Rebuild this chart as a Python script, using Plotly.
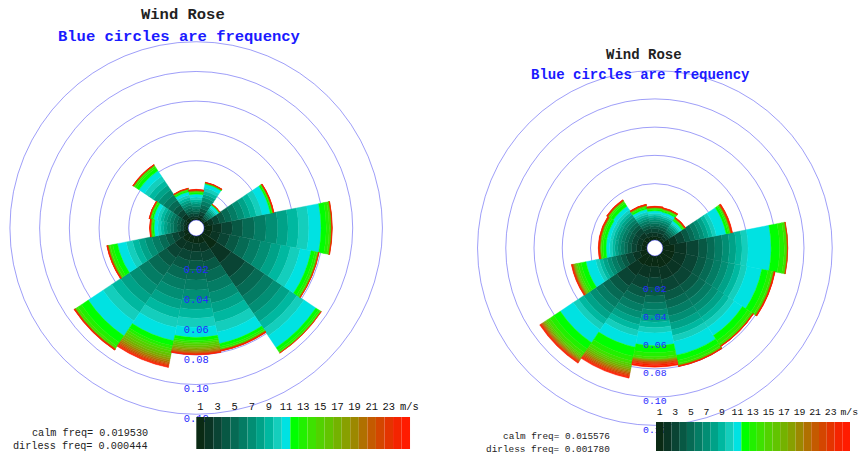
import plotly.graph_objects as go

# ---------------------------------------------------------------- data
directions = ["N", "NNE", "NE", "ENE", "E", "ESE", "SE", "SSE",
              "S", "SSW", "SW", "WSW", "W", "WNW", "NW", "NNW"]
direction_deg = [0, 22.5, 45, 67.5, 90, 112.5, 135, 157.5,
                 180, 202.5, 225, 247.5, 270, 292.5, 315, 337.5]

speed_bins = [1, 2, 3, 4, 5, 6, 7, 8, 9, 10, 11, 12, 13,
              14, 15, 16, 17, 18, 19, 20, 21, 22, 23, 24, 25]   # m/s
speed_tick_vals = [1, 3, 5, 7, 9, 11, 13, 15, 17, 19, 21, 23, 25.4]
speed_tick_text = ["1", "3", "5", "7", "9", "11", "13", "15", "17",
                   "19", "21", "23", "m/s"]

ring_values = [0.02, 0.04, 0.06, 0.08, 0.10, 0.12]
ring_labels = ["0.02", "0.04", "0.06", "0.08", "0.10", "0.12"]

FREQ_UNIT = 1e-4   # the per-bin frequencies below are in units of 1e-4

# first station: frequency per 1 m/s speed bin (1..25) for each direction
rose1_N   = [12, 14, 16, 16, 17, 17, 17, 15, 15, 16, 20, 10, 6, 4, 1, 1, 1, 1, 1, 1, 1, 1, 1, 1, 2]
rose1_NNE = [18, 20, 22, 22, 25, 25, 25, 22, 22, 22, 25, 4, 2, 1, 1, 0, 0, 1, 0, 1, 0, 1, 0, 1, 1]
rose1_NE  = [9, 10, 12, 12, 13, 13, 13, 11, 11, 11, 15, 4, 2, 1, 0, 0, 0, 0, 0, 1, 0, 0, 1, 0, 1]
rose1_ENE = [32, 36, 40, 40, 44, 44, 44, 40, 40, 40, 55, 10, 5, 3, 0, 1, 0, 1, 0, 1, 0, 1, 1, 1, 1]
rose1_E   = [56, 63, 71, 71, 78, 78, 78, 70, 70, 70, 82, 35, 20, 13, 1, 1, 1, 1, 0, 1, 0, 0, 1, 0, 1]
rose1_ESE = [53, 59, 66, 66, 73, 73, 72, 66, 66, 66, 75, 25, 15, 10, 0, 1, 0, 1, 0, 1, 0, 0, 1, 0, 1]
rose1_SE  = [115, 115, 115, 82, 74, 74, 66, 66, 57, 56, 95, 22, 13, 8, 0, 0, 0, 0, 0, 0, 0, 0, 1, 0, 1]
rose1_SSE = [53, 59, 66, 66, 73, 73, 72, 66, 66, 66, 80, 20, 12, 8, 1, 1, 1, 1, 1, 1, 1, 1, 1, 1, 2]
rose1_S   = [49, 55, 62, 62, 68, 68, 67, 62, 61, 61, 68, 20, 12, 10, 14, 12, 10, 9, 8, 6, 5, 4, 3, 2, 2]
rose1_SSW = [50, 57, 63, 63, 69, 69, 69, 63, 63, 64, 90, 35, 20, 15, 18, 16, 15, 13, 12, 10, 8, 7, 6, 5, 4]
rose1_SW  = [56, 63, 70, 70, 77, 77, 77, 70, 70, 70, 120, 55, 30, 15, 2, 2, 1, 1, 1, 1, 1, 1, 2, 1, 2]
rose1_WSW = [34, 38, 43, 43, 47, 47, 47, 43, 42, 43, 60, 32, 18, 11, 1, 1, 1, 1, 1, 1, 1, 1, 1, 1, 2]
rose1_W   = [16, 18, 21, 21, 23, 23, 22, 21, 20, 20, 25, 10, 6, 4, 1, 1, 1, 1, 1, 1, 1, 1, 0, 1, 1]
rose1_WNW = [17, 19, 22, 22, 24, 24, 23, 22, 21, 21, 25, 11, 7, 4, 1, 1, 1, 0, 1, 0, 1, 0, 1, 1, 1]
rose1_NW  = [29, 33, 37, 37, 40, 40, 40, 37, 36, 36, 45, 22, 12, 8, 1, 1, 0, 1, 0, 1, 0, 1, 1, 1, 1]
rose1_NNW = [14, 16, 18, 18, 19, 19, 19, 18, 17, 17, 20, 9, 5, 4, 1, 1, 0, 1, 0, 1, 0, 1, 0, 1, 1]

# second station
rose2_N   = [27, 27, 27, 19, 17, 17, 15, 15, 13, 13, 18, 10, 6, 4, 1, 1, 1, 1, 1, 1, 1, 1, 1, 1, 2]
rose2_NNE = [26, 26, 26, 19, 17, 17, 15, 14, 12, 13, 18, 10, 6, 4, 1, 1, 1, 1, 1, 1, 1, 1, 1, 1, 2]
rose2_NE  = [22, 22, 22, 16, 15, 15, 13, 13, 11, 11, 15, 9, 6, 3, 1, 1, 1, 1, 1, 1, 1, 1, 1, 1, 2]
rose2_ENE = [54, 54, 54, 39, 35, 35, 31, 31, 27, 28, 70, 16, 9, 6, 1, 1, 1, 1, 1, 1, 1, 2, 2, 2, 2]
rose2_E   = [85, 85, 85, 60, 54, 54, 48, 48, 42, 43, 163, 60, 33, 20, 1, 1, 0, 1, 0, 1, 0, 0, 0, 0, 1]
rose2_ESE = [85, 85, 85, 61, 55, 55, 49, 49, 43, 43, 106, 45, 25, 14, 1, 1, 1, 1, 1, 1, 1, 1, 1, 1, 2]
rose2_SE  = [87, 87, 87, 62, 56, 56, 50, 50, 42, 43, 70, 45, 26, 15, 1, 1, 0, 1, 0, 1, 0, 1, 1, 1, 1]
rose2_SSE = [87, 87, 87, 62, 56, 56, 50, 50, 42, 43, 98, 38, 21, 13, 1, 1, 1, 1, 1, 1, 1, 1, 0, 1, 1]
rose2_S   = [76, 76, 76, 55, 49, 49, 44, 44, 38, 38, 91, 50, 28, 16, 3, 3, 3, 3, 4, 4, 5, 6, 7, 9, 11]
rose2_SSW = [81, 81, 81, 58, 52, 52, 47, 46, 41, 41, 80, 65, 35, 20, 14, 13, 12, 11, 10, 9, 8, 8, 7, 6, 6]
rose2_SW  = [90, 90, 90, 64, 58, 58, 51, 51, 44, 44, 110, 55, 33, 22, 10, 9, 8, 7, 6, 5, 5, 4, 4, 3, 4]
rose2_WSW = [52, 52, 52, 37, 34, 34, 30, 30, 25, 26, 70, 35, 20, 13, 6, 5, 5, 4, 3, 3, 3, 2, 2, 2, 2]
rose2_W   = [37, 37, 37, 27, 24, 24, 21, 21, 18, 19, 25, 20, 12, 8, 2, 1, 1, 1, 1, 1, 1, 1, 2, 2, 2]
rose2_WNW = [37, 37, 37, 27, 24, 24, 21, 21, 18, 19, 25, 20, 12, 8, 2, 1, 1, 1, 1, 1, 1, 1, 2, 2, 2]
rose2_NW  = [38, 38, 38, 27, 24, 24, 22, 21, 19, 19, 30, 22, 12, 8, 1, 1, 1, 1, 1, 1, 1, 1, 1, 2, 2]
rose2_NNW = [29, 29, 29, 20, 18, 18, 16, 16, 15, 15, 20, 12, 7, 4, 1, 1, 1, 1, 1, 1, 1, 1, 1, 1, 2]

calm_freq = ["0.019530", "0.015576"]
dirless_freq = ["0.000444", "0.001780"]

rose1 = [rose1_N, rose1_NNE, rose1_NE, rose1_ENE, rose1_E, rose1_ESE, rose1_SE, rose1_SSE,
         rose1_S, rose1_SSW, rose1_SW, rose1_WSW, rose1_W, rose1_WNW, rose1_NW, rose1_NNW]
rose2 = [rose2_N, rose2_NNE, rose2_NE, rose2_ENE, rose2_E, rose2_ESE, rose2_SE, rose2_SSE,
         rose2_S, rose2_SSW, rose2_SW, rose2_WSW, rose2_W, rose2_WNW, rose2_NW, rose2_NNW]

# ---------------------------------------------------------------- style
palette = ["#0a2a14", "#0a3424", "#0a4434", "#085844", "#066a54", "#047c64",
           "#028e74", "#00a288", "#00b8a0", "#14cebc", "#00e2e2",
           "#00ff00", "#22f000", "#3ee200", "#52d200", "#62c400", "#74b200",
           "#88a000", "#9c8800", "#b07000", "#c45a00", "#d44600", "#e43400",
           "#f42400", "#ff1c00"]

W, H = 865, 457
MONO = "Liberation Mono, Courier New, monospace"
GRID = "rgba(40,40,240,0.45)"
LABEL_BLUE = "#2626ff"

panels = [
    dict(polar="polar", rose=rose1, cx=198, cy=228, R=188, cb=(198, 414, 417, 449),
         tx=185, ty=15, sx=181, sy=37, tsize=15.5, small=10.2, lbl=10.4,
         calm_x=151, calm_y=433, dir_y=446, xa="x", ya="y"),
    dict(polar="polar2", rose=rose2, cx=661, cy=248, R=179, cb=(662, 858, 422, 451),
         tx=650, ty=55, sx=646, sy=75, tsize=14, small=9.4, lbl=9.8,
         calm_x=618, calm_y=436, dir_y=449, xa="x2", ya="y2"),
]

fig = go.Figure()
layout = dict(width=W, height=H, margin=dict(l=0, r=0, t=0, b=0),
              paper_bgcolor="white", plot_bgcolor="rgba(0,0,0,0)",
              showlegend=False, annotations=[], shapes=[])

for i, p in enumerate(panels):
    # stacked speed bins
    for b, spd in enumerate(speed_bins):
        fig.add_trace(go.Barpolar(
            r=[sector[b] * FREQ_UNIT for sector in p["rose"]],
            theta=direction_deg,
            width=[22.5] * len(direction_deg),
            marker=dict(color=palette[b], line=dict(width=0.4, color=palette[b])),
            subplot=p["polar"], hoverinfo="skip", name=f"{spd} m/s",
        ))
    # frequency ring labels along the south spoke
    fig.add_trace(go.Scatterpolar(
        r=ring_values, theta=[180] * len(ring_values), mode="text",
        text=ring_labels, textposition="bottom center",
        textfont=dict(family=MONO, size=p["lbl"], color=LABEL_BLUE),
        subplot=p["polar"], cliponaxis=False, hoverinfo="skip",
    ))

    hole = 8 / p["R"]
    layout[p["polar"]] = dict(
        domain=dict(x=[(p["cx"] - p["R"]) / W, (p["cx"] + p["R"]) / W],
                    y=[1 - (p["cy"] + p["R"]) / H, 1 - (p["cy"] - p["R"]) / H]),
        hole=hole, bgcolor="rgba(0,0,0,0)", barmode="stack",
        radialaxis=dict(range=[0, 0.12], tickvals=ring_values, showticklabels=False,
                        ticks="", showline=False, gridcolor=GRID, gridwidth=1,
                        layer="above traces"),
        angularaxis=dict(rotation=90, direction="clockwise", showgrid=False,
                         showticklabels=False, ticks="", showline=True,
                         linecolor=GRID, linewidth=1, layer="above traces"),
    )

    # colour key on its own cartesian axes (speed in m/s)
    x0, x1, ytop, ybot = p["cb"]
    xname = "xaxis" if p["xa"] == "x" else "xaxis2"
    yname = "yaxis" if p["ya"] == "y" else "yaxis2"
    layout[xname] = dict(domain=[x0 / W, x1 / W], range=[0.5, 25.5], anchor=p["ya"],
                         side="top", tickvals=speed_tick_vals, ticktext=speed_tick_text,
                         tickangle=0, ticks="", showgrid=False, zeroline=False,
                         showline=False, ticklabelstandoff=4,
                         tickfont=dict(family=MONO, size=p["lbl"], color="#111111"),
                         fixedrange=True)
    layout[yname] = dict(domain=[1 - ybot / H, 1 - ytop / H], range=[0, 1],
                         anchor=p["xa"], visible=False, fixedrange=True)
    fig.add_trace(go.Scatter(x=speed_bins, y=[0.5] * len(speed_bins), mode="markers",
                             marker=dict(opacity=0), xaxis=p["xa"], yaxis=p["ya"],
                             hoverinfo="skip"))
    for b, spd in enumerate(speed_bins):
        layout["shapes"].append(dict(type="rect", xref=p["xa"], yref=p["ya"],
                                     x0=spd - 0.5, x1=spd + 0.5, y0=0, y1=1,
                                     fillcolor=palette[b], line=dict(width=0),
                                     layer="above"))

    # titles
    layout["annotations"] += [
        dict(text="<b>Wind Rose</b>", x=p["tx"] / W, y=1 - p["ty"] / H,
             xref="paper", yref="paper", showarrow=False, xanchor="center",
             yanchor="middle", font=dict(family=MONO, size=p["tsize"], color="#222222")),
        dict(text="<b>Blue circles are frequency</b>", x=p["sx"] / W, y=1 - p["sy"] / H,
             xref="paper", yref="paper", showarrow=False, xanchor="center",
             yanchor="middle", font=dict(family=MONO, size=p["tsize"], color="#1a1aff")),
        dict(text=f"calm freq= {calm_freq[i]}", x=p["calm_x"] / W, y=1 - p["calm_y"] / H,
             xref="paper", yref="paper", showarrow=False, xanchor="right",
             yanchor="middle", font=dict(family=MONO, size=p["small"], color="#222222")),
        dict(text=f"dirless freq= {dirless_freq[i]}", x=p["calm_x"] / W, y=1 - p["dir_y"] / H,
             xref="paper", yref="paper", showarrow=False, xanchor="right",
             yanchor="middle", font=dict(family=MONO, size=p["small"], color="#222222")),
    ]

fig.update_layout(**layout)
fig.write_html("out.html", config={"displayModeBar": False})
